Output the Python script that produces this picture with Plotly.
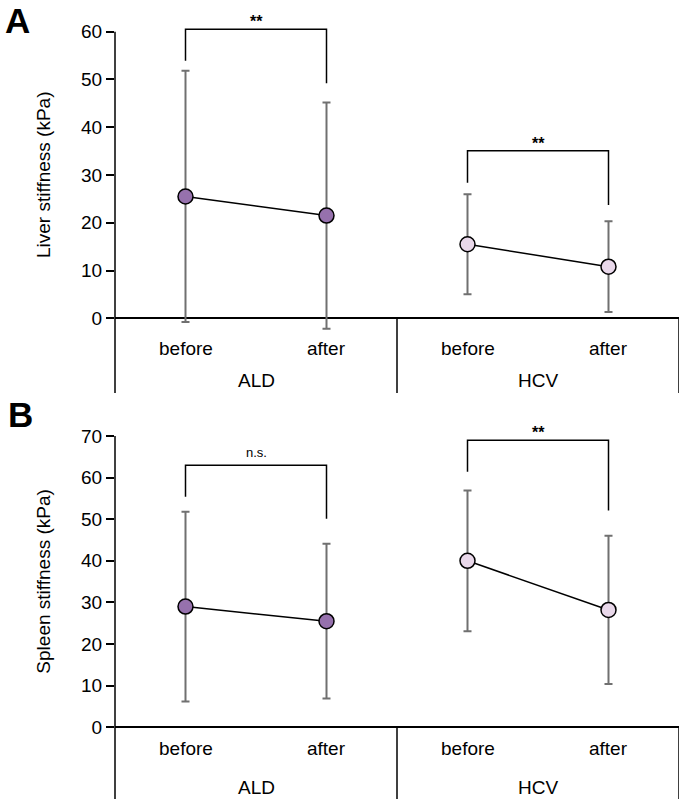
import plotly.graph_objects as go

# ---- data ----
positions = [1, 2, 3, 4]
conditions = ["before", "after", "before", "after"]
groups = ["ALD", "HCV"]
group_centers = [1.5, 3.5]
group_colors = ["#9671ad", "#e9d8ea"]

liver_mean = [25.5, 21.5, 15.5, 10.8]
liver_sd = [26.3, 23.7, 10.45, 9.5]
spleen_mean = [29.0, 25.5, 40.0, 28.2]
spleen_sd = [22.8, 18.6, 16.9, 17.8]

liver_br_top = [60.5, 35.1]
liver_br_left = [53.9, 28.4]
liver_br_right = [49.2, 23.7]
liver_sig = ["**", "**"]

spleen_br_top = [63.0, 69.0]
spleen_br_left = [55.4, 61.4]
spleen_br_right = [50.1, 52.1]
spleen_sig = ["n.s.", "**"]

liver_ticks = [0, 10, 20, 30, 40, 50, 60]
spleen_ticks = [0, 10, 20, 30, 40, 50, 60, 70]

FONT = "Liberation Sans, Arial, sans-serif"
H = 803
L_MARGIN = 115
PLOT_W = 564
fig = go.Figure()


def domain(ymin, ymax, top_val, px_top, px_bottom):
    # px_top: pixel of top_val, px_bottom: pixel of ymin
    ppu = (px_bottom - px_top) / (top_val - ymin)
    px_max = px_top - (ymax - top_val) * ppu
    return [1 - px_bottom / H, 1 - px_max / H]


panels = [
    dict(x="x", y="y", mean=liver_mean, sd=liver_sd, top=liver_br_top,
         left=liver_br_left, right=liver_br_right, sig=liver_sig,
         ticks=liver_ticks, rng=[-15.64, 62],
         dom=domain(-15.64, 62, 60, 31.7, 393),
         title="Liver stiffness (kPa)", tmid=30, cshift=-30, gshift=-62,
         letter="A", lx=17, ly=21),
    dict(x="x2", y="y2", mean=spleen_mean, sd=spleen_sd, top=spleen_br_top,
         left=spleen_br_left, right=spleen_br_right, sig=spleen_sig,
         ticks=spleen_ticks, rng=[-17.24, 70],
         dom=domain(-17.24, 70, 70, 436, 799),
         title="Spleen stiffness (kPa)", tmid=35, cshift=-21, gshift=-60,
         letter="B", lx=20, ly=415),
]

annotations = []
shapes = []
for i, p in enumerate(panels):
    for g in range(2):
        xs = positions[2 * g:2 * g + 2]
        ys = p["mean"][2 * g:2 * g + 2]
        es = p["sd"][2 * g:2 * g + 2]
        fig.add_trace(go.Scatter(
            x=xs, y=ys, xaxis=p["x"], yaxis=p["y"], mode="lines+markers",
            line=dict(color="black", width=1.5),
            marker=dict(size=15, color=group_colors[g],
                        line=dict(color="black", width=1.5)),
            error_y=dict(type="data", array=es, visible=True,
                         color="#707070", thickness=2, width=4),
            cliponaxis=False, showlegend=False, hoverinfo="skip"))
        # significance bracket
        fig.add_trace(go.Scatter(
            x=[xs[0], xs[0], xs[1], xs[1]],
            y=[p["left"][g], p["top"][g], p["top"][g], p["right"][g]],
            xaxis=p["x"], yaxis=p["y"], mode="lines",
            line=dict(color="black", width=1.5), cliponaxis=False,
            showlegend=False, hoverinfo="skip"))
        sig = p["sig"][g]
        is_star = sig == "**"
        annotations.append(dict(
            x=group_centers[g], y=p["top"][g], xref=p["x"], yref=p["y"],
            text="<b>%s</b>" % sig if is_star else sig, showarrow=False,
            yanchor="bottom", yshift=-3 if is_star else 3,
            font=dict(family=FONT, size=16 if is_star else 13, color="black")))
        # group label
        annotations.append(dict(
            x=group_centers[g], y=0, xref=p["x"], yref=p["y"], text=groups[g],
            showarrow=False, yanchor="middle", yshift=p["gshift"],
            font=dict(family=FONT, size=19, color="black")))
    for k in range(4):
        annotations.append(dict(
            x=positions[k], y=0, xref=p["x"], yref=p["y"], text=conditions[k],
            showarrow=False, yanchor="middle", yshift=p["cshift"],
            font=dict(family=FONT, size=19, color="black")))
    # y title
    annotations.append(dict(
        x=(44 - L_MARGIN) / PLOT_W, y=p["tmid"], xref="paper", yref=p["y"],
        text=p["title"], textangle=-90, showarrow=False,
        xanchor="center", yanchor="middle",
        font=dict(family=FONT, size=19, color="black")))
    # panel letter
    annotations.append(dict(
        x=(p["lx"] - L_MARGIN) / PLOT_W, y=1 - p["ly"] / H, xref="paper",
        yref="paper", text="<b>%s</b>" % p["letter"],
        showarrow=False, xanchor="center", yanchor="middle",
        font=dict(family=FONT, size=35, color="black")))
    # y axis line (from bottom up to the top tick)
    shapes.append(dict(type="line", xref=p["x"] + " domain", yref=p["y"],
                       x0=0, x1=0, y0=p["rng"][0], y1=p["ticks"][-1],
                       line=dict(color="black", width=1.5)))
    # category box separators
    for xv in [2.5, 4.5]:
        shapes.append(dict(type="line", xref=p["x"], yref=p["y"], x0=xv, x1=xv,
                           y0=0, y1=p["rng"][0], line=dict(color="black", width=1.5)))

layout_axes = {}
for i, p in enumerate(panels):
    xk = "xaxis" if i == 0 else "xaxis2"
    yk = "yaxis" if i == 0 else "yaxis2"
    layout_axes[xk] = dict(range=[0.5, 4.5], visible=False, domain=[0, 1],
                           anchor=p["y"], automargin=False)
    layout_axes[yk] = dict(range=p["rng"], domain=p["dom"], anchor=p["x"],
                           tickvals=p["ticks"], showline=False,
                           ticks="outside", ticklen=8, tickwidth=1.5,
                           tickcolor="black", showgrid=False, zeroline=True,
                           zerolinecolor="black", zerolinewidth=1.5,
                           automargin=False,
                           tickfont=dict(family=FONT, size=19, color="black"))

fig.update_layout(
    width=683, height=803,
    margin=dict(l=L_MARGIN, r=683 - L_MARGIN - PLOT_W, t=0, b=0),
    paper_bgcolor="white", plot_bgcolor="white",
    annotations=annotations, shapes=shapes,
    **layout_axes)

fig.write_html("out.html", config={"displayModeBar": False},
               post_script="document.body.style.margin='0';document.body.style.overflow='hidden';")
